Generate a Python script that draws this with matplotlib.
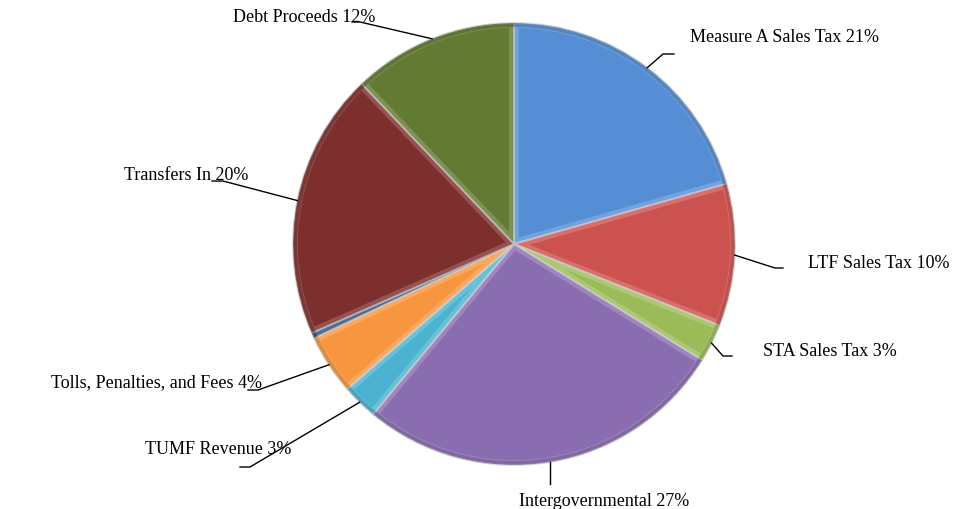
import numpy as np
import matplotlib
matplotlib.use("Agg")
import matplotlib.pyplot as plt
from matplotlib.patches import Wedge
from matplotlib.colors import to_rgb

# Revenue sources (share of total, %)
categories = ["Measure A Sales Tax", "LTF Sales Tax", "STA Sales Tax", "Intergovernmental",
              "TUMF Revenue", "Tolls, Penalties, and Fees", "Other", "Transfers In", "Debt Proceeds"]
values = [20.6, 10.4, 2.8, 27.2, 2.6, 4.4, 0.4, 19.5, 12.1]
colors = ["#558ed5", "#cc524f", "#9bbb59", "#8a6db0", "#4bb3cf", "#f7963f", "#2c4d75", "#7d2f2e", "#627a32"]
show_label = [True, True, True, True, True, True, False, True, True]

W, H = 958, 510
plt.rcParams["font.family"] = ["Liberation Serif", "DejaVu Serif"]

fig = plt.figure(figsize=(W / 100, H / 100), dpi=100)
ax = fig.add_axes([0, 0, 1, 1])


def px(x, y):
    """Pixel position (origin top-left) to data coordinates."""
    return x, H - y


cx, cy = px(514, 245)
R = 221

wedges, _ = ax.pie(values, colors=colors, startangle=90, counterclock=False,
                   center=(cx, cy), radius=R,
                   wedgeprops=dict(edgecolor="#d6d6d6", linewidth=1.3))


def shade(c, f):
    r, g, b = to_rgb(c)
    if f > 0:
        return (r + (1 - r) * f, g + (1 - g) * f, b + (1 - b) * f)
    return (r * (1 + f), g * (1 + f), b * (1 + f))


# bevel look: light rim inside each wedge and a darker band along the outer arc
for w, c in zip(wedges, colors):
    rim = Wedge(w.center, w.r, w.theta1, w.theta2, facecolor="none",
                edgecolor=shade(c, 0.35), linewidth=7, alpha=0.5)
    rim.set_clip_path(w)
    ax.add_patch(rim)
    outer = Wedge(w.center, w.r, w.theta1, w.theta2, width=4, facecolor=shade(c, -0.2),
                  edgecolor="none", alpha=0.6)
    outer.set_clip_path(w)
    ax.add_patch(outer)
    w.set_zorder(1)

# label layout: (elbow, line end, text anchor, horizontal alignment) in pixels
layout = [
    ((663, 55), (674, 55), (690, 38), "left"),
    ((775, 269), (783, 269), (808, 263), "left"),
    ((723, 357), (732, 357), (763, 352), "left"),
    (None, (548, 485), (604, 502), "center"),
    ((250, 468), (240, 468), (291, 450), "right"),
    ((258, 391), (248, 391), (262, 383), "right"),
    None,
    ((223, 182), (212, 182), (248, 175), "right"),
    ((360, 23), (352, 23), (375, 17), "right"),
]

total = sum(values)
for w, name, v, show, lay in zip(wedges, categories, values, show_label, layout):
    if not show:
        continue
    mid = np.deg2rad((w.theta1 + w.theta2) / 2)
    sx, sy = cx + R * np.cos(mid), cy + R * np.sin(mid)
    elbow, end, txt, ha = lay
    pts = [(sx, sy)]
    if elbow is None:
        ex, ey = px(*end)
        pts.append((sx, ey))
    else:
        pts.append(px(*elbow))
        pts.append(px(*end))
    xs, ys = zip(*pts)
    ax.plot(xs, ys, color="black", linewidth=1.0, zorder=5)
    tx, ty = px(*txt)
    ax.text(tx, ty, f"{name} {round(v / total * 100)}%", ha=ha, va="center",
            fontsize=13, color="black", zorder=6)

ax.set_xlim(0, W)
ax.set_ylim(0, H)
ax.set_aspect("equal")
ax.axis("off")
fig.savefig("out.png", dpi=100, facecolor="white")
